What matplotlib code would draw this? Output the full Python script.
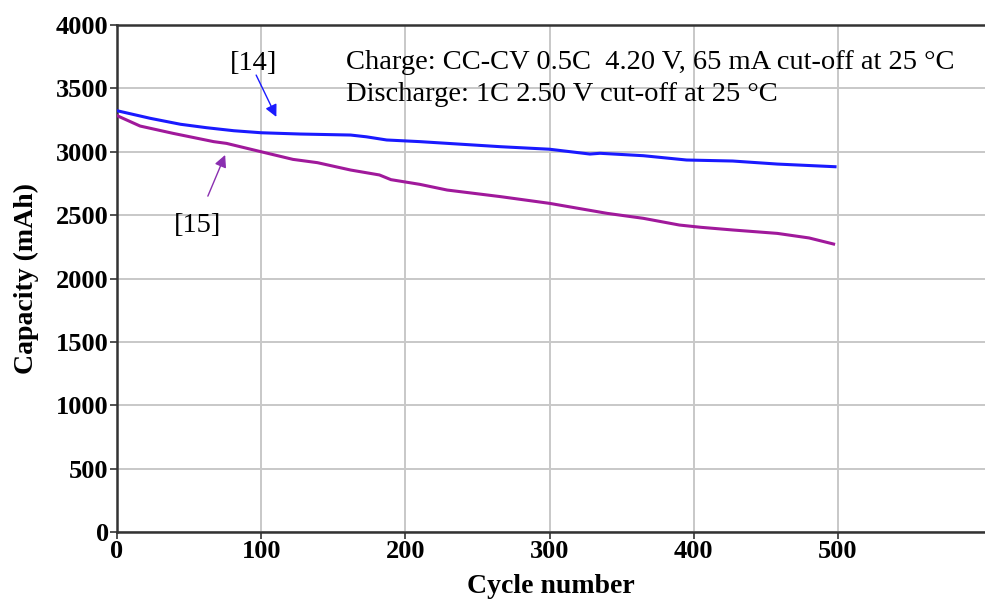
import numpy as np
import matplotlib
matplotlib.use('Agg')
from matplotlib import pyplot as plt

# cycle life curves
cycles_14 = [0, 23, 44, 62, 81, 100, 127, 162, 173, 187, 210, 266, 300, 328, 335, 365, 395, 427, 458, 498]
cap_14 = [3324, 3264, 3217, 3190, 3166, 3150, 3140, 3132, 3118, 3093, 3080, 3040, 3020, 2982, 2988, 2969, 2935, 2927, 2903, 2882]

cycles_15 = [0, 16, 39, 67, 76, 100, 122, 139, 162, 182, 190, 210, 229, 266, 300, 340, 365, 390, 405, 427, 458, 480, 497]
cap_15 = [3285, 3203, 3145, 3080, 3066, 3000, 2940, 2914, 2856, 2817, 2780, 2743, 2698, 2646, 2593, 2514, 2475, 2422, 2404, 2383, 2356, 2320, 2272]

xticks = [0, 100, 200, 300, 400, 500]
yticks = [0, 500, 1000, 1500, 2000, 2500, 3000, 3500, 4000]

plt.rcParams['font.family'] = ['Liberation Serif', 'DejaVu Serif']

fig = plt.figure(figsize=(9.85, 6.0), dpi=100)
ax = fig.add_axes([0.1188, 0.1133, 0.8812, 0.845])

ax.plot(cycles_14, cap_14, color='#1a1aff', lw=2.2, zorder=3)
ax.plot(cycles_15, cap_15, color='#a0199b', lw=2.2, zorder=3)

ax.set_xlim(0, 602)
ax.set_ylim(0, 4000)
ax.set_xticks(xticks)
ax.set_yticks(yticks)
ax.grid(True, color='#c8c8c8', lw=1.4)
ax.set_axisbelow(True)
for s in ['left', 'bottom', 'top']:
    ax.spines[s].set_color('#333333')
    ax.spines[s].set_linewidth(1.8)
ax.spines['right'].set_visible(False)
ax.tick_params(direction='out', length=5, width=1.2, color='#333333', labelsize=19, pad=1)
for lab in ax.get_xticklabels() + ax.get_yticklabels():
    lab.set_fontweight('bold')

ax.set_xlabel('Cycle number', fontsize=20, fontweight='bold', labelpad=8)
ax.set_ylabel('Capacity (mAh)', fontsize=20, fontweight='bold', labelpad=12)

ax.text(159, 3705, 'Charge: CC-CV 0.5C  4.20 V, 65 mA cut-off at 25 \u00b0C', fontsize=20.5, va='center')
ax.text(159, 3450, 'Discharge: 1C 2.50 V cut-off at 25 \u00b0C', fontsize=20.5, va='center')

# reference labels with arrows
ax.text(95, 3700, '[14]', fontsize=20.5, ha='center', va='center')
ax.annotate('', xy=(110.5, 3275), xytext=(96.5, 3605),
            arrowprops=dict(arrowstyle='-|>', color='#1a1aff', lw=1, shrinkA=0, shrinkB=0, mutation_scale=18))
ax.text(56, 2420, '[15]', fontsize=20.5, ha='center', va='center')
ax.annotate('', xy=(75, 2975), xytext=(63, 2650),
            arrowprops=dict(arrowstyle='-|>', color='#8a2fb0', lw=1, shrinkA=0, shrinkB=0, mutation_scale=18))

fig.savefig('out.png', dpi=100)
